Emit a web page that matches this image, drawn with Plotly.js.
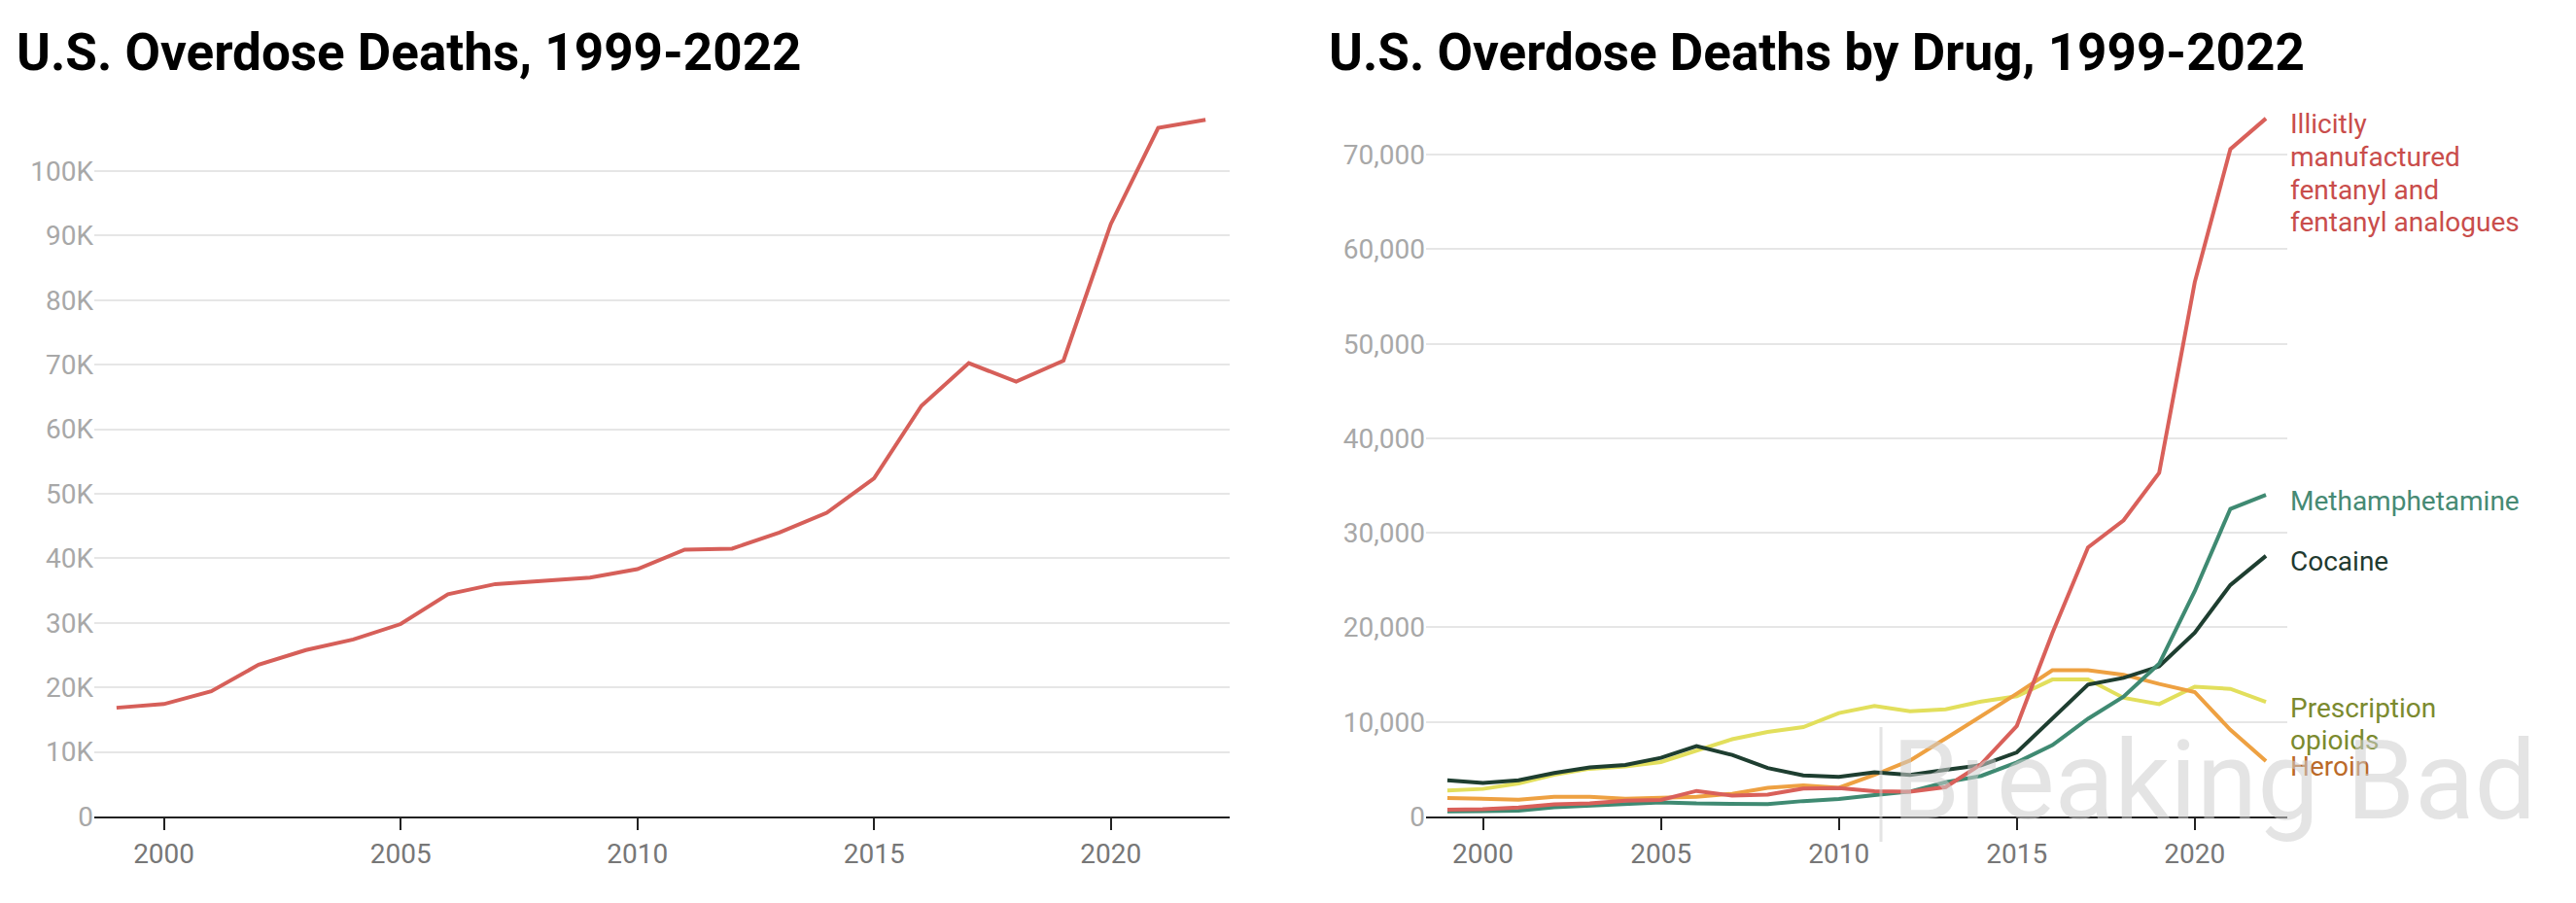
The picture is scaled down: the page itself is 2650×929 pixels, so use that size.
<!DOCTYPE html>
<html><head><meta charset="utf-8">
<script src="https://cdn.plot.ly/plotly-3.0.1.min.js"></script>
<style>html,body{margin:0;padding:0;background:#fff}</style>
</head><body><div id="chart" style="width:2650px;height:929px"></div>
<script>
const years = [1999,2000,2001,2002,2003,2004,2005,2006,2007,2008,2009,2010,2011,2012,2013,2014,2015,2016,2017,2018,2019,2020,2021,2022];
const totalDeaths = [16849,17415,19394,23518,25785,27424,29813,34425,36010,36450,37004,38329,41340,41502,43982,47055,52404,63632,70237,67367,70630,91799,106699,107941];
const fentanyl = [730,782,957,1295,1400,1664,1742,2707,2213,2306,2946,3007,2666,2628,3105,5544,9580,19413,28466,31335,36359,56516,70601,73838];
const meth = [547,578,606,971,1156,1274,1503,1379,1291,1302,1632,1854,2266,2635,3627,4298,5716,7542,10333,12676,16167,23837,32537,34022];
const cocaine = [3822,3544,3833,4599,5199,5443,6208,7448,6512,5129,4350,4183,4681,4404,4944,5415,6784,10375,13942,14666,15883,19447,24486,27569];
const rxOpioids = [2749,2917,3486,4416,5050,5292,5763,6967,8174,8952,9456,10943,11693,11140,11346,12159,12727,14487,14495,12552,11886,13722,13503,12126];
const heroin = [1960,1842,1779,2089,2080,1878,2009,2088,2399,3041,3278,3036,4397,5925,8257,10574,12989,15469,15482,14996,14019,13165,9173,5871];

const leftYTickVals = [0,10000,20000,30000,40000,50000,60000,70000,80000,90000,100000];
const leftYTickText = ['0','10K','20K','30K','40K','50K','60K','70K','80K','90K','100K'];
const rightYTickVals = [0,10000,20000,30000,40000,50000,60000,70000];
const rightYTickText = ['0','10,000','20,000','30,000','40,000','50,000','60,000','70,000'];
const xTickVals = [2000,2005,2010,2015,2020];
const xTickText = ['2000','2005','2010','2015','2020'];

const titles = ['U.S. Overdose Deaths, 1999-2022','U.S. Overdose Deaths by Drug, 1999-2022'];
const drugSeries = [
  {name:'Prescription opioids', y: rxOpioids, color:'#e2df5c', labelColor:'#7b8a2e', lines:['Prescription','opioids']},
  {name:'Heroin', y: heroin, color:'#eea142', labelColor:'#bb6a28', lines:['Heroin']},
  {name:'Cocaine', y: cocaine, color:'#1e3e30', labelColor:'#1f3a30', lines:['Cocaine']},
  {name:'Methamphetamine', y: meth, color:'#3f8a72', labelColor:'#468a74', lines:['Methamphetamine']},
  {name:'Illicitly manufactured fentanyl and fentanyl analogues', y: fentanyl, color:'#d9605a', labelColor:'#c94d4b', lines:['Illicitly','manufactured','fentanyl and','fentanyl analogues']}
];

const W = 2650, H = 929;
const px = x => x / W;
const py = y => (H - y) / H;
const FONT = 'Roboto, "Noto Sans", sans-serif';

const traces = [{
  x: years, y: totalDeaths, type:'scatter', mode:'lines', xaxis:'x', yaxis:'y',
  line:{color:'#d65f59', width:4}, hoverinfo:'x+y', showlegend:false
}];
drugSeries.forEach(s => traces.push({
  x: years, y: s.y, type:'scatter', mode:'lines', xaxis:'x2', yaxis:'y2', name:s.name,
  line:{color:s.color, width:4}, showlegend:false
}));

const annotations = [];
annotations.push({text:'<b>'+titles[0]+'</b>', xref:'paper', yref:'paper', x:px(15), y:py(54), xanchor:'left', yanchor:'middle', showarrow:false, font:{family:FONT, size:53, color:'#000'}});
annotations.push({text:'<b>'+titles[1]+'</b>', xref:'paper', yref:'paper', x:px(1365), y:py(54), xanchor:'left', yanchor:'middle', showarrow:false, font:{family:FONT, size:53, color:'#000'}});

drugSeries.forEach(s => {
  const lastX = years[years.length-1];
  const lastY = s.y[s.y.length-1];
  s.lines.forEach((t,i) => {
    annotations.push({text:t, xref:'x2', yref:'y2', x:lastX, y:lastY, xanchor:'left', yanchor:'middle',
      xshift:23, yshift:-6 - i*33.7, showarrow:false, font:{family:FONT, size:28, color:s.labelColor}});
  });
});

annotations.push({text:'Breaking Bad', xref:'paper', yref:'paper', x:px(1944), y:py(803), xanchor:'left', yanchor:'middle', showarrow:false,
  font:{family:FONT, size:113, color:'rgba(205,205,205,0.55)'}});

const axisBase = {
  showgrid:true, gridcolor:'#e6e6e6', gridwidth:2, zeroline:false, showline:false,
  tickfont:{family:FONT, size:28, color:'#a8a8a8'}, ticks:'', fixedrange:true
};
const xBase = {
  tickmode:'array', tickvals:xTickVals, ticktext:xTickText, showgrid:false, zeroline:false,
  showline:true, linecolor:'#222', linewidth:2, ticks:'outside', ticklen:12, tickwidth:2, tickcolor:'#222',
  tickfont:{family:FONT, size:28, color:'#777'}, fixedrange:true
};

const layout = {
  width:W, height:H, margin:{l:0,r:0,t:0,b:0}, paper_bgcolor:'#fff', plot_bgcolor:'#fff',
  showlegend:false, font:{family:FONT},
  xaxis: Object.assign({}, xBase, {domain:[px(97), px(1265)], range:[1998.53, 2022.51], anchor:'y'}),
  yaxis: Object.assign({}, axisBase, {domain:[py(840), py(110)], range:[0, 109940], tickmode:'array', tickvals:leftYTickVals, ticktext:leftYTickText, anchor:'x'}),
  xaxis2: Object.assign({}, xBase, {domain:[px(1467), px(2353)], range:[1998.4, 2022.6], anchor:'y2'}),
  yaxis2: Object.assign({}, axisBase, {domain:[py(840), py(110)], range:[0, 75060], tickmode:'array', tickvals:rightYTickVals, ticktext:rightYTickText, anchor:'x2'}),
  annotations: annotations,
  shapes: [{type:'line', xref:'paper', yref:'paper', x0:px(1935), x1:px(1935), y0:py(748), y1:py(866), line:{color:'rgba(205,205,205,0.55)', width:3}}]
};

Plotly.newPlot('chart', traces, layout, {displayModeBar:false, staticPlot:true});
</script></body></html>
